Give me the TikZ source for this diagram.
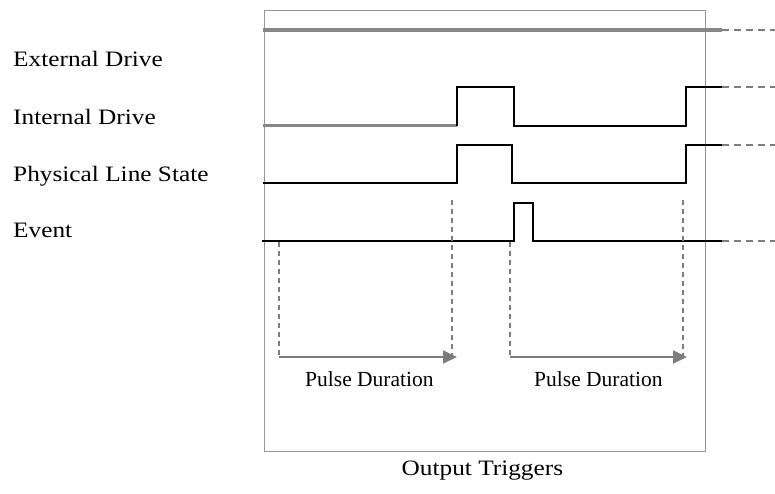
\documentclass[tikz,border=0pt]{standalone}
\usepackage{fontspec}
\setmainfont{Liberation Serif}
\newfontfamily\labfont[FakeStretch=1.15]{Liberation Serif}
\usetikzlibrary{arrows.meta}
\definecolor{boxgray}{RGB}{150,150,150}
\definecolor{linegray}{RGB}{135,135,135}
\definecolor{dashgray}{RGB}{125,125,125}
\tikzset{
  lab/.style={anchor=base west, inner sep=0pt, font=\labfont\fontsize{22}{24}\selectfont},
  pulselab/.style={anchor=base west, inner sep=0pt, font=\fontsize{21.5}{24}\selectfont},
  wave/.style={line width=1.8pt, black},
  ext/.style={line width=2.2pt, dashgray, dash pattern=on 7pt off 5pt},
  guide/.style={line width=2.2pt, dashgray, dash pattern=on 5pt off 4pt},
  durarrow/.style={line width=1.8pt, dashgray, -{Triangle[length=14pt,width=13pt]}},
}
\begin{document}
\begin{tikzpicture}[x=1pt,y=-1pt]
\useasboundingbox (0,0) rectangle (775,493);
% frame
\draw[boxgray, line width=1.5pt] (264.7,10.7) rectangle (705.7,451.7);
% labels
\node[lab] (lext) at (13,66.5) {External Drive};
\node[lab] (lint) at (13,124) {Internal Drive};
\node[lab] (lphy) at (13,181) {Physical Line State};
\node[lab] (lev) at (13,237.5) {Event};
\node[lab] (lout) at (401.5,475) {Output Triggers};
% external drive
\draw[linegray, line width=3.4pt] (263,30) -- (722,30);
\draw[ext, line width=2.6pt] (722,30) -- (775,30);
% internal drive
\draw[linegray, line width=3pt] (263,125.7) -- (456.7,125.7);
\draw[wave] (456.7,125.7) -- (456.7,87.3) -- (514.3,87.3) -- (514.3,125.7) -- (686,125.7) -- (686,87.3) -- (722,87.3);
\draw[ext] (722,87.3) -- (775,87.3);
% physical line state
\draw[wave] (263,182.7) -- (456.7,182.7) -- (456.7,144.7) -- (511.7,144.7) -- (511.7,182.7) -- (686,182.7) -- (686,144.7) -- (722,144.7);
\draw[ext] (722,144.7) -- (775,144.7);
% event
\draw[wave] (261.5,240.7) -- (514,240.7) -- (514,202.7) -- (532.7,202.7) -- (532.7,240.7) -- (722,240.7);
\draw[ext] (722,240.7) -- (775,240.7);
% guides
\coordinate (g1t) at (279,242);
\coordinate (g1b) at (279,357);
\coordinate (g2t) at (451.7,200);
\coordinate (g2b) at (451.7,357);
\coordinate (g3t) at (510,242);
\coordinate (g3b) at (510,357);
\coordinate (g4t) at (682.7,200);
\coordinate (g4b) at (682.7,357);
\draw[guide] (g1t) -- (g1b);
\draw[guide] (g2t) -- (g2b);
\draw[guide] (g3t) -- (g3b);
\draw[guide] (g4t) -- (g4b);
\coordinate (a1e) at (457,357);
\coordinate (a2e) at (687,357);
\draw[durarrow] (g1b) -- (a1e);
\draw[durarrow] (g3b) -- (a2e);
\node[pulselab] (p1) at (305,386.5) {Pulse Duration};
\node[pulselab] (p2) at (534,386.5) {Pulse Duration};
\end{tikzpicture}
\end{document}
